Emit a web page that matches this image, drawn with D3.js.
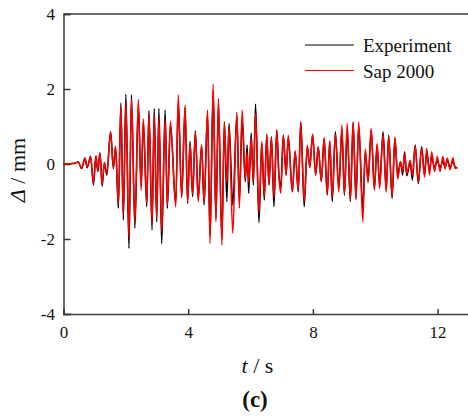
<!DOCTYPE html>
<html>
<head>
<meta charset="utf-8">
<script src="https://cdn.jsdelivr.net/npm/d3@7"></script>
<style>
  html, body { margin: 0; padding: 0; background: #fff; }
  svg { display: block; }
</style>
</head>
<body>
<svg id="chart" width="468" height="419"></svg>
<script>
// ---- data ----
const time = [0,0.37,0.47,0.58,0.69,0.76,0.87,0.96,1.04,1.10,1.17,1.24,1.31,1.39,1.51,1.60,1.67,1.76,1.84,1.92,
  2.00,2.10,2.18,2.29,2.40,2.49,2.56,2.67,2.74,2.84,2.91,2.99,3.06,3.15,3.26,3.33,3.43,3.60,3.68,3.79,
  3.90,3.98,4.06,4.14,4.23,4.32,4.43,4.51,4.62,4.70,4.80,4.89,4.97,5.08,5.16,5.24,5.31,5.43,5.56,5.64,
  5.73,5.83,5.89,5.94,6.02,6.09,6.16,6.27,6.36,6.44,6.52,6.59,6.67,6.75,6.84,6.91,6.97,7.05,7.14,7.21,
  7.34,7.43,7.53,7.61,7.72,7.82,7.90,7.99,8.09,8.17,8.27,8.36,8.46,8.54,8.62,8.72,8.83,8.93,9.01,9.10,
  9.20,9.29,9.38,9.47,9.60,9.68,9.77,9.87,9.97,10.06,10.14,10.25,10.35,10.43,10.54,10.63,10.72,10.81,10.88,10.94,
  11.01,11.12,11.19,11.28,11.38,11.49,11.58,11.65,11.74,11.81,11.90,11.99,12.08,12.17,12.24,12.31,12.40,12.49,12.56,12.63];

const experiment = [0,0.02,0.06,-0.12,0.16,-0.1,0.21,-0.56,0.2,-0.2,0.3,-0.59,0.02,-0.29,0.86,-0.12,0.44,-1.18,1.63,-1.49,
  1.86,-2.25,1.84,-1.71,1.55,-0.6,1.13,-1.14,1.42,-1.76,1.48,-1.54,1.48,-2.12,1.44,-1.18,1.04,-1.05,1.6,-0.87,
  1.5,-1.05,0.6,-0.87,0.89,-0.92,0.51,-1.09,1.35,-1.9,1.95,-1.45,1.6,-2.0,1.13,-1.0,1.08,-1.1,1.3,-1.0,
  1.2,-0.47,0.51,-0.78,0.82,-0.56,1.6,-1.56,0.55,-0.96,0.77,-0.56,0.73,-1.14,0.91,-0.29,-0.6,0.77,-0.29,0.7,
  -0.74,0.33,-0.74,1.13,-1.14,0.46,-0.07,0.77,-0.29,0.46,-0.47,0.68,-0.83,0.6,-1.0,0.86,-0.65,0.9,-0.83,0.9,
  -1.0,1.1,-0.92,1.0,-1.2,0.33,-0.45,0.91,-0.65,0.51,-0.56,0.86,-0.69,0.77,-0.92,0.68,-0.29,0.06,-0.29,0.33,
  -0.31,0.04,-0.43,0.51,-0.52,0.46,-0.3,0.33,-0.2,0.21,-0.1,0.08,-0.1,0.08,-0.08,0.1,-0.1,0.08,-0.08,-0.1];

const sap2000 = [0,0.02,0.05,-0.1,0.14,-0.08,0.18,-0.5,0.22,-0.15,0.28,-0.55,0.05,-0.25,0.86,-0.1,0.48,-1.05,1.55,-1.35,
  1.65,-1.98,1.72,-1.55,1.72,-0.7,1.2,-1.05,1.35,-1.6,1.3,-1.45,1.25,-1.8,1.2,-1.1,1.15,-1.15,1.84,-0.9,
  1.57,-1.0,0.55,-0.8,0.85,-1.0,0.5,-1.05,1.44,-2.12,2.13,-1.54,1.75,-2.16,1.1,-0.5,1.0,-1.85,1.39,-1.18,
  1.44,-0.4,0.3,-0.5,0.7,-0.45,1.35,-1.3,0.6,-0.85,0.8,-0.55,0.7,-0.9,0.9,-0.35,-0.78,0.77,-0.3,0.77,
  -0.74,0.35,-0.7,1.1,-1.0,0.5,-0.1,0.8,-0.3,0.46,-0.45,0.7,-0.8,0.62,-0.9,0.8,-0.75,1.04,-0.8,1.08,
  -0.95,1.13,-0.95,1.13,-1.54,0.4,-0.5,0.95,-0.7,0.55,-0.65,0.8,-0.75,0.73,-0.85,0.72,-0.4,0.05,-0.2,0.28,
  -0.25,0.1,-0.3,0.48,-0.47,0.42,-0.35,0.42,-0.29,0.33,-0.2,0.2,-0.2,0.2,-0.13,0.16,-0.15,0.17,-0.12,-0.1];

const xTicks = [0, 4, 8, 12];
const yTicks = [-4, -2, 0, 2, 4];
const seriesNames = ["Experiment", "Sap 2000"];
const seriesColors = ["#000000", "#ff0000"];

(function draw() {
  const FONT = "'Liberation Serif', 'Times New Roman', 'DejaVu Serif', serif";
  const svg = d3.select("#chart");
  const mLeft = 63.5, mRight = 468.8, mTop = 14, mBottom = 314;

  const x = d3.scaleLinear().domain([0, 13]).range([mLeft, mRight]);
  const y = d3.scaleLinear().domain([-4, 4]).range([mBottom, mTop]);

  const axisColor = "#3a3a3a";

  svg.append("line").attr("x1", mLeft).attr("x2", mRight).attr("y1", mTop).attr("y2", mTop)
    .attr("stroke", axisColor).attr("stroke-width", 1.5);

  const yAxis = d3.axisLeft(y).tickValues(yTicks).tickSize(-7).tickFormat(d => String(d));
  const gy = svg.append("g").attr("transform", `translate(${mLeft},0)`).call(yAxis);
  gy.select(".domain").attr("stroke", axisColor).attr("stroke-width", 1.5);
  gy.selectAll(".tick line").attr("stroke", axisColor).attr("stroke-width", 1.5);
  gy.selectAll(".tick text").style("font-family", FONT).style("font-size", "17px").attr("fill", "#111")
    .attr("x", -8.5).attr("text-anchor", "end");

  const xAxis = d3.axisBottom(x).tickValues(xTicks).tickSize(-5).tickFormat(d => String(d));
  const gx = svg.append("g").attr("transform", `translate(0,${mBottom})`).call(xAxis);
  gx.select(".domain").attr("stroke", axisColor).attr("stroke-width", 1.5);
  gx.selectAll(".tick line").attr("stroke", axisColor).attr("stroke-width", 1.5);
  gx.selectAll(".tick text").style("font-family", FONT).style("font-size", "17px").attr("fill", "#111")
    .attr("y", 12);

  const line = d3.line().x((d, i) => x(time[i])).y(d => y(d)).curve(d3.curveMonotoneX);
  [experiment, sap2000].forEach((vals, k) => {
    svg.append("path").datum(vals).attr("d", line)
      .attr("fill", "none").attr("stroke", seriesColors[k]).attr("stroke-width", 1.5)
      .attr("stroke-linejoin", "round");
  });

  seriesNames.forEach((name, k) => {
    const ly = 45 + k * 25.5;
    svg.append("line").attr("x1", 305).attr("x2", 354).attr("y1", ly).attr("y2", ly)
      .attr("stroke", seriesColors[k]).attr("stroke-width", 1.2);
    svg.append("text").attr("x", 363).attr("y", ly + 7)
      .style("font-family", FONT).style("font-size", "19px").attr("fill", "#111").text(name);
  });

  const xt = svg.append("text").attr("x", 257.5).attr("y", 373).attr("text-anchor", "middle")
    .style("font-family", FONT).style("font-size", "22px").attr("fill", "#111");
  xt.append("tspan").attr("font-style", "italic").text("t");
  xt.append("tspan").text(" / s");

  const yt = svg.append("text").attr("transform", "translate(25,170) rotate(-90)")
    .attr("text-anchor", "middle")
    .style("font-family", FONT).style("font-size", "22px").attr("fill", "#111");
  yt.append("tspan").attr("font-style", "italic").text("Δ");
  yt.append("tspan").text(" / mm");

  svg.append("text").attr("x", 255).attr("y", 407).attr("text-anchor", "middle")
    .style("font-family", FONT).style("font-size", "23px").style("font-weight", "bold")
    .attr("fill", "#111").text("(c)");
})();
</script>
</body>
</html>
